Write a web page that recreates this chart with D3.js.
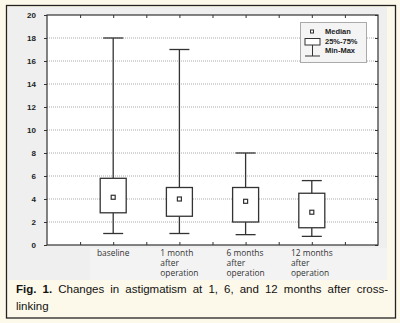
<!DOCTYPE html>
<html><head><meta charset="utf-8">
<script src="https://cdn.jsdelivr.net/npm/d3@7"></script>
<style>body{margin:0;background:#fdf9ea;}svg{display:block;}</style>
</head><body>
<svg id="c" width="400" height="323"></svg>
<script>
const categories = [["baseline"], ["1 month","after","operation"], ["6 months","after","operation"], ["12 months","after","operation"]];
const mins    = [1.0, 1.0, 0.9, 0.75];
const q1s     = [2.8, 2.5, 2.0, 1.5];
const medians = [4.15, 4.0, 3.8, 2.85];
const q3s     = [5.8, 5.0, 5.0, 4.5];
const maxs    = [18, 17, 8, 5.6];
const yTicks  = [0,2,4,6,8,10,12,14,16,18,20];
const legendLabels = ["Median","25%-75%","Min-Max"];
const captionBold = "Fig. 1.";
const captionLine1 = " Changes in astigmatism at 1, 6, and 12 months after cross-";
const captionLine2 = "linking";

const svg = d3.select("#c");
// frame
svg.append("rect").attr("x",0).attr("y",0).attr("width",400).attr("height",323).attr("fill","#fdf9ea");
svg.append("rect").attr("x",6.5).attr("y",5.5).attr("width",389).attr("height",312.5).attr("fill","#fdf9ea").attr("stroke","#222").attr("stroke-width",1.3);
svg.append("rect").attr("x",8).attr("y",7).attr("width",379).attr("height",273).attr("fill","#efefef");
svg.append("rect").attr("x",90).attr("y",248).attr("width",297).attr("height",32).attr("fill","#f3f3f3");

const L=47, R=378, T=15, B=245;
const x = d3.scaleLinear().domain([0,5]).range([L,R]);
const y = d3.scaleLinear().domain([0,20]).range([B,T]);

svg.append("rect").attr("x",L).attr("y",T).attr("width",R-L).attr("height",B-T).attr("fill","#fff");

// gridlines
svg.append("g").selectAll("line").data(yTicks.filter(d=>d>0&&d<20)).join("line")
  .attr("x1",L).attr("x2",R).attr("y1",d=>y(d)).attr("y2",d=>y(d))
  .attr("stroke","#aaa").attr("stroke-width",1).attr("stroke-dasharray","1,1");

// axes
const tickFont = g => g.selectAll("text").attr("font-family","Arial, Liberation Sans, sans-serif").attr("font-weight","bold").attr("font-size","8px").attr("fill","#222");
const yl = svg.append("g").attr("transform",`translate(${L},0)`).call(d3.axisLeft(y).tickValues(yTicks).tickSize(3).tickPadding(8).tickFormat(d3.format("d")));
yl.call(tickFont); yl.select(".domain").remove(); yl.selectAll("line").attr("stroke","#333");
const yr = svg.append("g").attr("transform",`translate(${R},0)`).call(d3.axisLeft(y).tickValues(yTicks).tickSize(3).tickFormat(""));
yr.select(".domain").remove(); yr.selectAll("line").attr("stroke","#333");
const xt = d3.range(0.5,5,0.5);
const xb = svg.append("g").attr("transform",`translate(0,${B})`).call(d3.axisTop(x).tickValues(xt).tickSize(3).tickFormat(""));
xb.select(".domain").remove(); xb.selectAll("line").attr("stroke","#333");
const xtp = svg.append("g").attr("transform",`translate(0,${T})`).call(d3.axisBottom(x).tickValues(xt).tickSize(3).tickFormat(""));
xtp.select(".domain").remove(); xtp.selectAll("line").attr("stroke","#333");
svg.append("rect").attr("x",L).attr("y",T).attr("width",R-L).attr("height",B-T).attr("fill","none").attr("stroke","#333").attr("stroke-width",1.2);

// boxes
const idx = d3.range(categories.length);
const g = svg.append("g").attr("stroke","#333").attr("stroke-width",1.3);
const bw=26, cw=20;
idx.forEach(i=>{
  const cx = x(i+1);
  g.append("line").attr("x1",cx).attr("x2",cx).attr("y1",y(maxs[i])).attr("y2",y(q3s[i]));
  g.append("line").attr("x1",cx).attr("x2",cx).attr("y1",y(q1s[i])).attr("y2",y(mins[i]));
  g.append("line").attr("x1",cx-cw/2).attr("x2",cx+cw/2).attr("y1",y(maxs[i])).attr("y2",y(maxs[i]));
  g.append("line").attr("x1",cx-cw/2).attr("x2",cx+cw/2).attr("y1",y(mins[i])).attr("y2",y(mins[i]));
  g.append("rect").attr("x",cx-bw/2).attr("y",y(q3s[i])).attr("width",bw).attr("height",y(q1s[i])-y(q3s[i])).attr("fill","#fff");
  g.append("rect").attr("x",cx-2).attr("y",y(medians[i])-2).attr("width",4).attr("height",4).attr("fill","#fff").attr("stroke-width",1.2);
});

// category labels
idx.forEach(i=>{
  const cx = x(i+1);
  const t = svg.append("text").attr("font-family","Open Sans, Noto Sans, sans-serif").attr("font-size","8.4px").attr("fill","#333");
  categories[i].forEach((s,k)=>t.append("tspan").attr("y",256+k*10).text(s));
  const w = d3.max(t.selectAll("tspan").nodes(), n=>n.getComputedTextLength());
  t.selectAll("tspan").attr("x",cx-w/2);
});

// legend
const lg = svg.append("g");
lg.append("rect").attr("x",300.5).attr("y",22.5).attr("width",66).attr("height",40).attr("fill","#f4f4f4").attr("stroke","#aaa");
lg.append("rect").attr("x",310.5).attr("y",30).attr("width",3).attr("height",3).attr("fill","#fff").attr("stroke","#333").attr("stroke-width",1);
lg.append("rect").attr("x",305).attr("y",38.5).attr("width",15).attr("height",6.5).attr("fill","#fff").attr("stroke","#333").attr("stroke-width",1);
lg.append("line").attr("x1",312.5).attr("x2",312.5).attr("y1",45).attr("y2",56).attr("stroke","#333");
lg.append("line").attr("x1",305).attr("x2",320).attr("y1",56).attr("y2",56).attr("stroke","#333");
legendLabels.forEach((s,k)=>lg.append("text").attr("x",325).attr("y",34+k*9.5)
  .attr("font-family","Arial, Liberation Sans, sans-serif").attr("font-weight","bold").attr("font-size","7.5px").attr("fill","#222").text(s));

// caption
const c1 = svg.append("text").attr("x",16).attr("y",293).attr("font-family","Arial, Liberation Sans, sans-serif").attr("font-size","11.5px").attr("fill","#111");
c1.append("tspan").attr("font-weight","bold").text(captionBold);
c1.append("tspan").text(captionLine1);
const natural = c1.node().getComputedTextLength();
const spaces = (captionBold+captionLine1).split(" ").length-1;
c1.attr("word-spacing", ((388-16)-natural)/spaces);
svg.append("text").attr("x",16).attr("y",310).attr("font-family","Arial, Liberation Sans, sans-serif").attr("font-size","11.5px").attr("fill","#111").text(captionLine2);
</script>
</body></html>
